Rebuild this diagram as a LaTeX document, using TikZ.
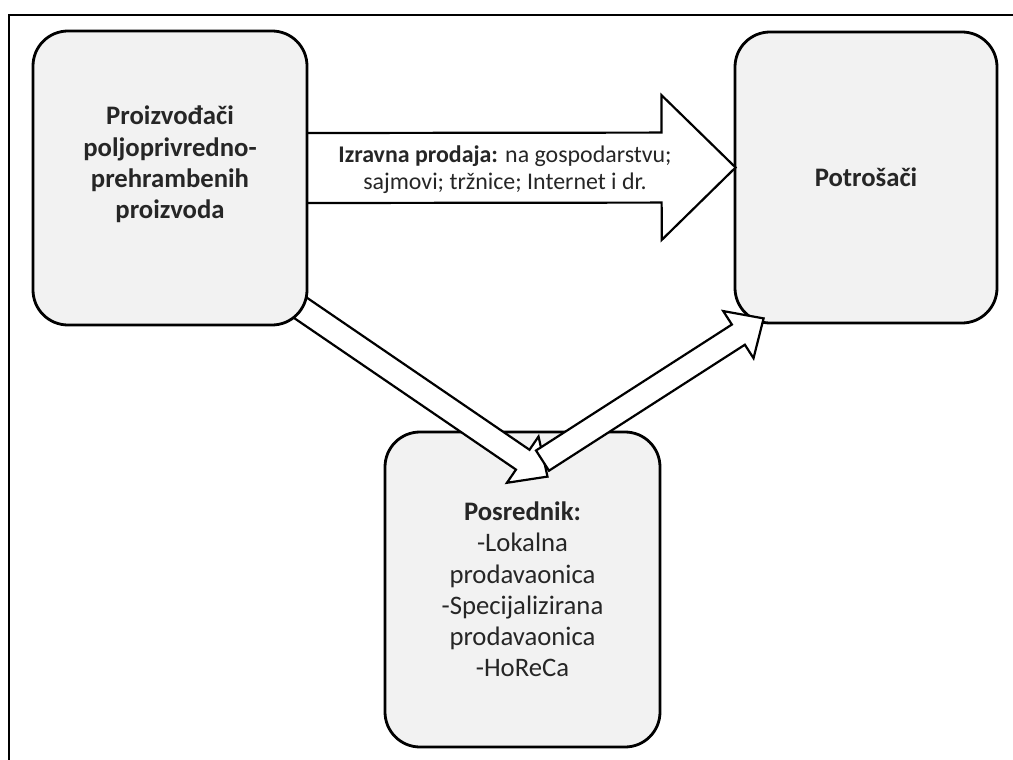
\documentclass[tikz,border=0pt]{standalone}
\usepackage{fontspec}
\setmainfont{Carlito}
\usepackage{tikz}
\usetikzlibrary{calc}
\pgfdeclarelayer{front}
\pgfsetlayers{main,front}
\definecolor{boxgray}{HTML}{F2F2F2}
\newcommand{\blockarrow}[5]{%
  \coordinate (ba_base) at ($(#2)!#5!(#1)$);
  \draw[arrow_style] ($(#1)!#3!90:(#2)$) -- ($(ba_base)!#3!-90:(#1)$)
    -- ($(ba_base)!#4!-90:(#1)$) -- (#2) -- ($(ba_base)!#4!90:(#1)$)
    -- ($(ba_base)!#3!90:(#1)$) -- ($(#1)!#3!-90:(#2)$) -- cycle;
}
\begin{document}
\begin{tikzpicture}[x=0.25mm, y=-0.25mm,
			box_style/.style={rectangle,rounded corners=8.75mm,draw=black,line width=0.7mm,fill=boxgray,align=center,text=black!85,font=\fontsize{19}{22.2}\selectfont},
			arrow_style/.style={draw=black,line width=0.55mm,fill=white,line join=miter},
			text_style/.style={align=center,text=black!85,font=\fontsize{17}{19.2}\selectfont},
			frame_style/.style={draw=black,line width=0.5mm}]
			\useasboundingbox (0,0) rectangle (1013,760);
			\draw[frame_style] (1013,15) -- (9,15) -- (9,760);
			\begin{pgfonlayer}{front}
			\node[box_style,minimum width=68.5mm,minimum height=73.5mm] (n_prod) at (170,178) {\bfseries Proizvođači\\ \bfseries poljoprivredno-\\ \bfseries prehrambenih\\ \bfseries proizvoda\\ \mbox{}};
			\end{pgfonlayer}
			\node[box_style,minimum width=65.5mm,minimum height=72.75mm] (n_cons) at (866,177.5) {\bfseries Potrošači};
			\node[box_style,minimum width=68.75mm,minimum height=78.75mm] (n_posr) at (522.5,589.5) {\textbf{Posrednik:}\\ -Lokalna\\ prodavaonica\\ -Specijalizirana\\ prodavaonica\\ -HoReCa};
			\coordinate (h_from) at ([shift={(-5,-10)}]n_prod.east);
			\coordinate (h_to) at ([shift={(2,-10)}]n_cons.west);
			\coordinate (d1_from) at ([shift={(-32,-35)}]n_prod.south east);
			\coordinate (d1_to) at ([shift={(25,46)}]n_posr.north);
			\coordinate (d2_from) at ([shift={(20,30)}]n_posr.north);
			\coordinate (d2_to) at ([shift={(30,-6)}]n_cons.south west);
			\blockarrow{h_from}{h_to}{8.75mm}{18.1mm}{18.5mm}
			\blockarrow{d1_from}{d1_to}{3mm}{7mm}{7.5mm}
			\blockarrow{d2_from}{d2_to}{3mm}{7mm}{7.5mm}
			\node[text_style] (t_direct) at (505,170) {\textbf{Izravna prodaja:} na gospodarstvu;\\ sajmovi; tržnice; Internet i dr.};
			\end{tikzpicture}
\end{document}
